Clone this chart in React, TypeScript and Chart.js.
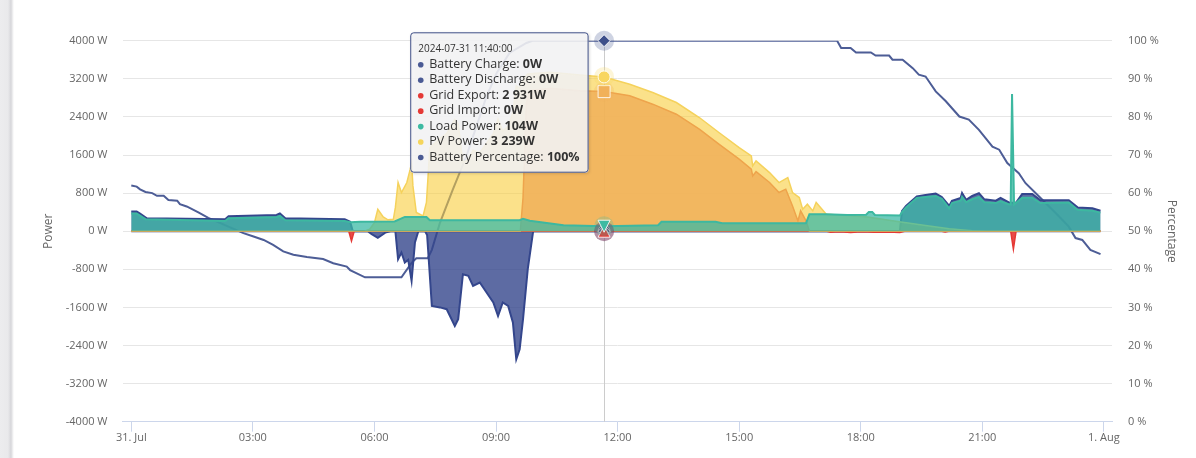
import React, { useEffect, useRef } from 'react';
import { Chart, registerables } from 'chart.js';

Chart.register(...registerables);

// ---------- data (time in minutes after midnight, value) ----------
const DATE_LABEL = '2024-07-31';
const HOVER_TIME = 700; // 11:40

const xTickValues = [0, 180, 360, 540, 720, 900, 1080, 1260, 1440];
const xTickLabels = ['31. Jul', '03:00', '06:00', '09:00', '12:00', '15:00', '18:00', '21:00', '1. Aug'];

const batteryCharge: [number, number][] = [
  [0, 0], [350, 0], [356, -60], [365, -140], [376, -30], [384, 0], [391, 0], [395, -588], [400, -447],
  [405, -657], [410, -600], [415, -1043], [420, -237], [425, 0], [435, 0], [438, -80], [445, -1568],
  [457, -1600], [467, -1638], [479, -1988], [484, -1848], [491, -903], [499, -938], [506, -1148],
  [516, -1077], [526, -1287], [536, -1497], [543, -1778], [550, -1497], [558, -1568], [565, -1917],
  [570, -2688], [575, -2478], [580, -1848], [587, -798], [595, 0], [700, 0], [1435, 0],
];

const batteryDischarge: [number, number][] = [
  [0, 413], [8, 413], [13, 371], [23, 273], [139, 252], [144, 315], [215, 342], [220, 371], [228, 273],
  [316, 252], [324, 200], [328, 0], [700, 0], [1138, 0], [1141, 420], [1147, 530], [1163, 730],
  [1176, 760], [1191, 790], [1200, 720], [1211, 530], [1215, 640], [1228, 700], [1230, 800], [1236, 660],
  [1245, 740], [1255, 800], [1263, 670], [1280, 640], [1287, 700], [1300, 600], [1310, 600], [1319, 780],
  [1334, 780], [1346, 650], [1388, 650], [1401, 500], [1423, 480], [1435, 430],
];

const gridExport: [number, number][] = [
  [0, 0], [576, 0], [580, 700], [585, 2700], [590, 2950], [620, 3000], [664, 2947], [700, 2931],
  [738, 2842], [772, 2667], [807, 2457], [841, 2142], [870, 1827], [900, 1512], [918, 1302], [920, 1161],
  [925, 1250], [945, 1022], [959, 812], [969, 882], [979, 531], [987, 216], [991, 427], [999, 216],
  [1004, 0], [1435, 0],
];

const gridImport: [number, number][] = [
  [0, 0], [322, 0], [326, -203], [330, 0], [700, 0], [1030, 0], [1035, -20], [1050, -10], [1065, -25],
  [1080, -10], [1100, -20], [1120, -15], [1138, -25], [1145, 0], [1200, 0], [1205, -15], [1210, 0],
  [1302, 0], [1306, -378], [1310, 0], [1435, 0],
];

const loadPower: [number, number][] = [
  [0, 371], [8, 371], [21, 252], [139, 216], [144, 273], [215, 300], [220, 320], [228, 231], [316, 216],
  [324, 190], [339, 200], [390, 205], [405, 300], [437, 300], [442, 231], [575, 231], [580, 260],
  [590, 220], [640, 126], [700, 104], [780, 126], [785, 196], [865, 196], [875, 168], [999, 168],
  [1004, 357], [1029, 357], [1060, 340], [1088, 345], [1092, 405], [1097, 405], [1101, 340], [1138, 330],
  [1141, 400], [1147, 500], [1163, 700], [1176, 720], [1191, 740], [1200, 680], [1211, 480], [1215, 590],
  [1228, 640], [1230, 720], [1236, 610], [1245, 670], [1255, 720], [1263, 610], [1280, 590], [1287, 630],
  [1300, 560], [1302, 560], [1304, 2880], [1307, 560], [1319, 700], [1334, 700], [1346, 590], [1388, 600],
  [1401, 450], [1423, 430], [1435, 390],
];

const pvPower: [number, number][] = [
  [0, 0], [345, 0], [353, 40], [360, 180], [365, 462], [373, 300], [380, 240], [388, 250], [391, 500],
  [395, 1022], [400, 812], [408, 1022], [413, 1302], [415, 1442], [417, 951], [422, 392], [432, 321],
  [437, 603], [442, 1750], [457, 1950], [467, 2050], [479, 2350], [484, 2250], [491, 1450], [499, 1500],
  [506, 1700], [516, 1650], [526, 1850], [536, 2050], [543, 2350], [550, 2100], [558, 2200], [565, 2500],
  [570, 3050], [575, 3000], [580, 3200], [587, 3300], [620, 3340], [664, 3280], [700, 3239], [738, 3087],
  [772, 2912], [807, 2702], [841, 2387], [870, 2072], [900, 1757], [918, 1582], [920, 1371], [925, 1476],
  [945, 1231], [959, 1022], [972, 1127], [979, 812], [989, 707], [994, 462], [1001, 567], [1009, 427],
  [1014, 603], [1029, 357], [1060, 330], [1090, 300], [1137, 200], [1176, 120], [1211, 50], [1245, 10],
  [1265, 0], [1435, 0],
];

const batteryPercentage: [number, number][] = [
  [0, 62], [8, 61.7], [13, 61], [21, 60.3], [31, 60], [38, 59.3], [48, 59.3], [55, 58.2], [68, 58],
  [72, 57.1], [82, 56.5], [90, 55.8], [100, 54.9], [114, 53.5], [166, 49.5], [181, 48.6], [196, 47.7],
  [210, 46.4], [225, 44.7], [240, 43.8], [260, 43.2], [284, 42.7], [299, 41.6], [319, 40.7], [324, 39.8],
  [346, 37.9], [400, 37.9], [415, 41.7], [422, 42.9], [439, 42.9], [445, 45.1], [457, 52.2], [476, 60.9],
  [496, 69.6], [511, 77.5], [526, 85.4], [541, 91.5], [560, 96.8], [585, 99.4], [594, 100], [700, 100],
  [1045, 100], [1051, 98.1], [1065, 98.1], [1073, 96.9], [1095, 96.9], [1102, 96.1], [1122, 96.1],
  [1127, 95], [1142, 95], [1157, 92.8], [1166, 91.1], [1176, 90.6], [1191, 86.7], [1206, 84.1],
  [1226, 80.1], [1240, 79.3], [1255, 76.6], [1275, 72.2], [1285, 71.4], [1297, 67.9], [1314, 65.2],
  [1324, 62.6], [1344, 59.1], [1369, 54.7], [1388, 51.2], [1398, 48.2], [1408, 47.7], [1420, 45.1],
  [1435, 44],
];

// ---------- helpers ----------
const toXY = (arr: [number, number][]) => arr.map(([x, y]) => ({ x, y }));

function valueAt(arr: [number, number][], t: number): number {
  for (let i = 0; i < arr.length; i++) {
    if (arr[i][0] === t) return arr[i][1];
    if (arr[i][0] > t && i > 0) {
      const [x0, y0] = arr[i - 1];
      const [x1, y1] = arr[i];
      return y0 + ((y1 - y0) * (t - x0)) / (x1 - x0);
    }
  }
  return arr[arr.length - 1][1];
}

const fmtW = (v: number) => String(Math.round(Math.abs(v))).replace(/\B(?=(\d{3})+(?!\d))/g, ' ') + 'W';
const fmtP = (v: number) => `${Math.round(v)}%`;
const pad2 = (n: number) => String(n).padStart(2, '0');

type SeriesInfo = {
  label: string;
  data: [number, number][];
  dot: string;
  marker: string;
  symbol: 'circle' | 'diamond' | 'square' | 'triangle' | 'triangleDown';
  axis: 'y' | 'y1';
  fmt: (v: number) => string;
};

const seriesInfo: SeriesInfo[] = [
  { label: 'Battery Charge', data: batteryCharge, dot: '#4a5a94', marker: '#34468c', symbol: 'circle', axis: 'y', fmt: fmtW },
  { label: 'Battery Discharge', data: batteryDischarge, dot: '#4a5a94', marker: '#34468c', symbol: 'diamond', axis: 'y', fmt: fmtW },
  { label: 'Grid Export', data: gridExport, dot: '#e53935', marker: '#f1b15a', symbol: 'square', axis: 'y', fmt: fmtW },
  { label: 'Grid Import', data: gridImport, dot: '#e53935', marker: '#e53935', symbol: 'triangle', axis: 'y', fmt: fmtW },
  { label: 'Load Power', data: loadPower, dot: '#3dbaa2', marker: '#3dbaa2', symbol: 'triangleDown', axis: 'y', fmt: fmtW },
  { label: 'PV Power', data: pvPower, dot: '#f5d55c', marker: '#f8d660', symbol: 'circle', axis: 'y', fmt: fmtW },
  { label: 'Battery Percentage', data: batteryPercentage, dot: '#4a5a94', marker: '#3d4f8a', symbol: 'diamond', axis: 'y1', fmt: fmtP },
];

function hexA(hex: string, a: number) {
  const r = parseInt(hex.slice(1, 3), 16);
  const g = parseInt(hex.slice(3, 5), 16);
  const b = parseInt(hex.slice(5, 7), 16);
  return `rgba(${r},${g},${b},${a})`;
}

function symbolPath(ctx: CanvasRenderingContext2D, sym: SeriesInfo['symbol'], x: number, y: number, r: number) {
  ctx.beginPath();
  if (sym === 'circle') ctx.arc(x, y, r, 0, Math.PI * 2);
  else if (sym === 'square') ctx.rect(x - r, y - r, 2 * r, 2 * r);
  else if (sym === 'diamond') {
    ctx.moveTo(x, y - r); ctx.lineTo(x + r, y); ctx.lineTo(x, y + r); ctx.lineTo(x - r, y);
  } else if (sym === 'triangle') {
    ctx.moveTo(x, y - r); ctx.lineTo(x + r, y + r); ctx.lineTo(x - r, y + r);
  } else {
    ctx.moveTo(x - r, y - r); ctx.lineTo(x + r, y - r); ctx.lineTo(x, y + r);
  }
  ctx.closePath();
}

function roundRectPath(ctx: CanvasRenderingContext2D, x: number, y: number, w: number, h: number, r: number) {
  ctx.beginPath();
  ctx.moveTo(x + r, y);
  ctx.lineTo(x + w - r, y);
  ctx.arcTo(x + w, y, x + w, y + r, r);
  ctx.lineTo(x + w, y + h - r);
  ctx.arcTo(x + w, y + h, x + w - r, y + h, r);
  ctx.lineTo(x + r, y + h);
  ctx.arcTo(x, y + h, x, y + h - r, r);
  ctx.lineTo(x, y + r);
  ctx.arcTo(x, y, x + r, y, r);
  ctx.closePath();
}

const FONT = "'Open Sans', 'Noto Sans', sans-serif";

const overlayPlugin = {
  id: 'hoverOverlay',
  beforeDatasetsDraw(chart: any) {
    const { ctx, chartArea, scales } = chart;
    const px = scales.x.getPixelForValue(HOVER_TIME);
    ctx.save();
    ctx.strokeStyle = '#cccccc';
    ctx.lineWidth = 1;
    ctx.beginPath();
    ctx.moveTo(Math.round(px) + 0.5, chartArea.top);
    ctx.lineTo(Math.round(px) + 0.5, chartArea.bottom);
    ctx.stroke();
    ctx.restore();
  },
  afterDatasetsDraw(chart: any) {
    const { ctx, chartArea, scales } = chart;
    const px = scales.x.getPixelForValue(HOVER_TIME);
    ctx.save();
    const drawOrder = [0, 1, 3, 4, 2, 5, 6];
    for (const i of drawOrder) {
      const s = seriesInfo[i];
      const v = valueAt(s.data, HOVER_TIME);
      const py = scales[s.axis].getPixelForValue(v);
      ctx.fillStyle = hexA(s.marker, 0.25);
      ctx.beginPath();
      ctx.arc(px, py, 10, 0, Math.PI * 2);
      ctx.fill();
      symbolPath(ctx, s.symbol, px, py, 6);
      ctx.fillStyle = s.marker;
      ctx.fill();
      ctx.strokeStyle = 'rgba(255,255,255,0.85)';
      ctx.lineWidth = 1;
      ctx.stroke();
    }

    // tooltip
    const h = Math.floor(HOVER_TIME / 60);
    const m = HOVER_TIME % 60;
    const title = `${DATE_LABEL} ${pad2(h)}:${pad2(m)}:00`;
    const reg = `12.5px ${FONT}`;
    const bold = `bold 12.5px ${FONT}`;
    const rows = seriesInfo.map((s) => ({
      label: s.label + ': ',
      value: s.fmt(valueAt(s.data, HOVER_TIME)),
      dot: s.dot,
    }));
    let maxW = 0;
    for (const r of rows) {
      ctx.font = reg;
      const w1 = ctx.measureText(r.label).width;
      ctx.font = bold;
      const w2 = ctx.measureText(r.value).width;
      maxW = Math.max(maxW, w1 + w2);
    }
    ctx.font = `10px ${FONT}`;
    const tW = ctx.measureText(title).width;
    const boxW = Math.max(19 + maxW + 9, 8 + tW + 9);
    const boxH = 140.4;
    const top = chartArea.top - 8.4;
    const left = px - 15.5 - boxW;

    ctx.save();
    ctx.shadowColor = 'rgba(0,0,0,0.18)';
    ctx.shadowOffsetX = 1;
    ctx.shadowOffsetY = 1;
    ctx.shadowBlur = 3;
    roundRectPath(ctx, left, top, boxW, boxH, 3);
    ctx.fillStyle = 'rgba(247,247,248,0.88)';
    ctx.fill();
    ctx.restore();
    roundRectPath(ctx, left + 0.5, top + 0.5, boxW - 1, boxH - 1, 3);
    ctx.strokeStyle = '#3f4f86';
    ctx.lineWidth = 1;
    ctx.stroke();

    ctx.textBaseline = 'middle';
    ctx.textAlign = 'left';
    ctx.fillStyle = '#333333';
    ctx.font = `10px ${FONT}`;
    ctx.fillText(title, left + 8, top + 17);
    rows.forEach((r, i) => {
      const y = top + 32 + i * 15.45;
      ctx.fillStyle = r.dot;
      ctx.beginPath();
      ctx.arc(left + 10.5, y + 0.5, 2.8, 0, Math.PI * 2);
      ctx.fill();
      ctx.fillStyle = '#333333';
      ctx.font = reg;
      ctx.fillText(r.label, left + 19, y);
      const w1 = ctx.measureText(r.label).width;
      ctx.font = bold;
      ctx.fillText(r.value, left + 19 + w1, y);
    });
    ctx.restore();
  },
};

export default function App() {
  const ref = useRef<HTMLCanvasElement>(null);

  useEffect(() => {
    const canvas = ref.current;
    if (!canvas) return;
    Chart.defaults.font.family = FONT;
    Chart.defaults.color = '#666666';

    const area = (label: string, data: [number, number][], fill: string, border: string, order: number, width = 1.5) => ({
      label,
      data: toXY(data),
      yAxisID: 'y',
      fill: 'origin',
      backgroundColor: fill,
      borderColor: border,
      borderWidth: width,
      pointRadius: 0,
      pointHoverRadius: 0,
      tension: 0,
      order,
    });

    const chart = new Chart(canvas, {
      type: 'line',
      data: {
        datasets: [
          area('Load Power', loadPower, 'rgba(60,185,165,0.75)', '#3db8a0', 1, 2),
          area('Grid Export', gridExport, 'rgba(240,174,88,0.82)', '#eea44c', 2),
          area('PV Power', pvPower, 'rgba(248,205,60,0.6)', '#f5d25c', 3),
          area('Grid Import', gridImport, 'rgba(229,57,53,0.9)', '#e53935', 4),
          area('Battery Discharge', batteryDischarge, 'rgba(52,70,140,0.8)', '#34468c', 5, 2),
          area('Battery Charge', batteryCharge, 'rgba(52,70,140,0.8)', '#34468c', 6, 2),
          {
            label: 'Battery Percentage',
            data: toXY(batteryPercentage),
            yAxisID: 'y1',
            fill: false,
            borderColor: '#4d5d96',
            borderWidth: 2,
            pointRadius: 0,
            pointHoverRadius: 0,
            tension: 0,
            order: 7,
          },
        ] as any,
      },
      options: {
        animation: false,
        responsive: false,
        events: [],
        layout: { padding: { top: 40.7, left: 0, right: 0, bottom: 0 } },
        plugins: {
          legend: { display: false },
          tooltip: { enabled: false },
        },
        scales: {
          x: {
            type: 'linear',
            min: -13,
            max: 1452,
            afterBuildTicks: (s: any) => {
              s.ticks = xTickValues.map((v) => ({ value: v }));
            },
            afterFit: (s: any) => {
              s.height = 36.3;
            },
            ticks: {
              autoSkip: false,
              maxRotation: 0,
              padding: 0,
              color: '#666666',
              font: { size: 11 },
              callback: (v: any) => {
                const i = xTickValues.indexOf(Number(v));
                return i >= 0 ? xTickLabels[i] : '';
              },
            },
            grid: { drawOnChartArea: false, drawTicks: true, tickLength: 10, color: '#ccd6eb' },
            border: { display: true, color: '#ccd6eb', width: 1 },
          },
          y: {
            position: 'left',
            min: -4000,
            max: 4000,
            afterFit: (s: any) => {
              s.width = 122.5;
            },
            ticks: {
              stepSize: 800,
              padding: 15,
              color: '#666666',
              font: { size: 11 },
              callback: (v: any) => `${v} W`,
            },
            grid: { color: '#e6e6e6', drawTicks: false, lineWidth: 1 },
            border: { display: false },
            title: {
              display: true,
              text: 'Power',
              color: '#666666',
              font: { size: 12 },
              padding: { top: 41, bottom: 0 },
            },
          },
          y1: {
            position: 'right',
            min: 0,
            max: 100,
            afterFit: (s: any) => {
              s.width = 84;
            },
            ticks: {
              stepSize: 10,
              padding: 16,
              color: '#666666',
              font: { size: 11 },
              callback: (v: any) => `${v} %`,
            },
            grid: { drawOnChartArea: false, drawTicks: false },
            border: { display: false },
            title: {
              display: true,
              text: 'Percentage',
              color: '#666666',
              font: { size: 12 },
              padding: { top: 17, bottom: 0 },
            },
          },
        },
      } as any,
      plugins: [overlayPlugin],
    });

    return () => chart.destroy();
  }, []);

  return (
    <div style={{ position: 'fixed', left: 0, top: 0, width: 1196, height: 458, background: '#ffffff', overflow: 'hidden' }}>
      <div
        style={{
          position: 'absolute',
          left: 0,
          top: 0,
          width: 14,
          height: 458,
          background: 'linear-gradient(to right, #ececee 0px, #e9e9eb 8px, #d6d6da 11px, #e6e6e8 12px, rgba(255,255,255,0) 14px)',
        }}
      />
      <canvas ref={ref} width={1196} height={458} style={{ position: 'absolute', left: 0, top: 0, width: 1196, height: 458 }} />
    </div>
  );
}
